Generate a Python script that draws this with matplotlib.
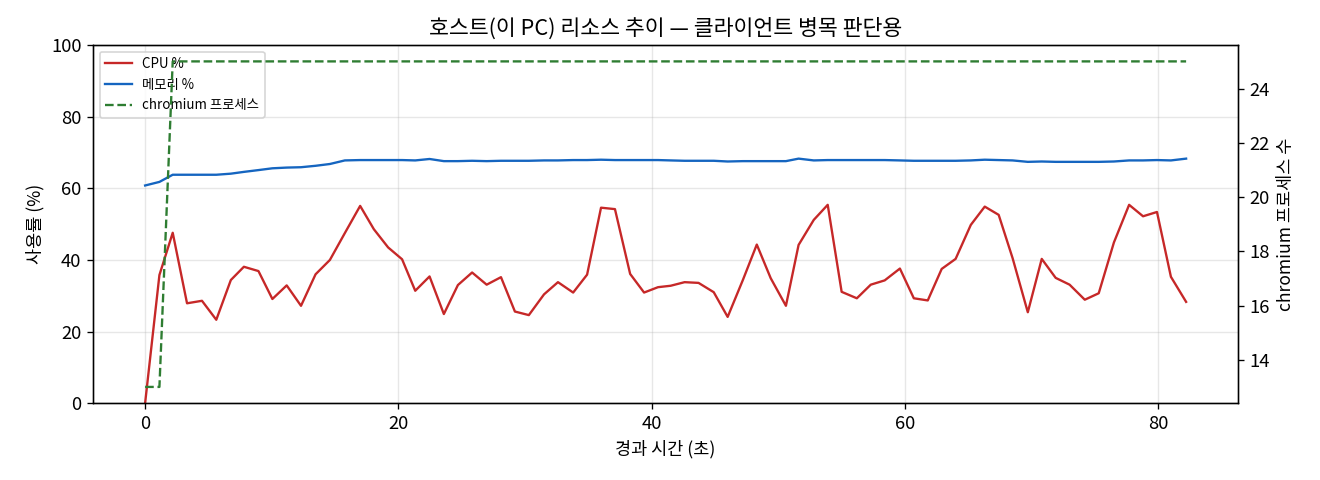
import matplotlib
matplotlib.use("Agg")
import matplotlib.pyplot as plt

plt.rcParams['font.family'] = ['Noto Sans CJK KR', 'DejaVu Sans']
plt.rcParams['axes.unicode_minus'] = False

elapsed_s = [0.0, 1.13, 2.18, 3.31, 4.49, 5.62, 6.77, 7.8, 8.95, 10.05, 11.18, 12.31, 13.46,
             14.59, 15.77, 16.98, 18.06, 19.19, 20.29,
             21.33, 22.46, 23.59, 24.7, 25.82, 26.97, 28.1, 29.2, 30.3, 31.5, 32.6, 33.8,
             34.9, 36.0, 37.1, 38.3, 39.4, 40.5,
             41.5, 42.6, 43.7, 44.9, 46.0, 47.2, 48.3, 49.4, 50.6, 51.6, 52.8, 53.9, 55.0,
             56.2, 57.3, 58.4, 59.6, 60.7,
             61.8, 62.9, 64.0, 65.2, 66.3, 67.4, 68.5, 69.7, 70.8, 71.9, 73.0, 74.2, 75.3,
             76.5, 77.7, 78.8, 79.9, 81.0, 82.2]

cpu_pct = [0.0, 35.8, 47.6, 27.9, 28.6, 23.3, 34.4, 38.1, 36.9, 29.1, 32.9, 27.2, 36.0,
           40.0, 47.5, 55.1, 48.6, 43.5, 40.2,
           31.4, 35.4, 24.9, 33.0, 36.5, 33.1, 35.2, 25.6, 24.6, 30.4, 33.8, 30.9,
           35.9, 54.6, 54.2, 36.1, 30.9, 32.4,
           32.8, 33.8, 33.6, 31.0, 24.1, 34.4, 44.3, 34.9, 27.2, 44.2, 51.2, 55.4, 31.1,
           29.3, 33.1, 34.3, 37.6, 29.3,
           28.7, 37.5, 40.3, 49.8, 54.9, 52.6, 40.5, 25.4, 40.3, 35.0, 33.1, 28.9, 30.7,
           44.9, 55.4, 52.2, 53.4, 35.3, 28.3]

mem_pct = [60.8, 61.8, 63.8, 63.8, 63.8, 63.8, 64.1, 64.6, 65.1, 65.6, 65.8, 65.9, 66.3,
           66.8, 67.8, 67.9, 67.9, 67.9, 67.9,
           67.8, 68.2, 67.6, 67.6, 67.7, 67.6, 67.7, 67.7, 67.7, 67.8, 67.8, 67.9,
           67.9, 68.0, 67.9, 67.9, 67.9, 67.9,
           67.8, 67.7, 67.7, 67.7, 67.5, 67.6, 67.6, 67.6, 67.6, 68.3, 67.8, 67.9, 67.9,
           67.9, 67.9, 67.9, 67.8, 67.7,
           67.7, 67.7, 67.7, 67.8, 68.0, 67.9, 67.8, 67.4, 67.5, 67.4, 67.4, 67.4, 67.4,
           67.5, 67.8, 67.8, 67.9, 67.8, 68.3]

chromium_procs = [13, 13] + [25] * 72

title = "호스트(이 PC) 리소스 추이 — 클라이언트 병목 판단용"
xlabel = "경과 시간 (초)"
ylabel_left = "사용률 (%)"
ylabel_right = "chromium 프로세스 수"
labels = ["CPU %", "메모리 %", "chromium 프로세스"]

fig = plt.figure(figsize=(11, 4), dpi=120)
ax = fig.add_axes([0.0705, 0.160, 0.8675, 0.746])
l1, = ax.plot(elapsed_s, cpu_pct, color="#c62828", lw=1.4, label=labels[0])
l2, = ax.plot(elapsed_s, mem_pct, color="#1565c0", lw=1.4, label=labels[1])
ax.set_ylim(0, 100)
ax.set_xlabel(xlabel, fontsize=10.5)
ax.set_ylabel(ylabel_left, fontsize=10.5)
ax.set_title(title, fontsize=13)
ax.tick_params(labelsize=11)
ax.grid(True, alpha=0.3)

ax2 = ax.twinx()
l3, = ax2.plot(elapsed_s, chromium_procs, color="#2e7d32", lw=1.4, ls="--", label=labels[2])
ax2.set_ylabel(ylabel_right, fontsize=10.5)
ax2.tick_params(labelsize=11)

ax.legend(handles=[l1, l2, l3], loc="upper left", fontsize=8)

fig.savefig("out.png", dpi=120)
